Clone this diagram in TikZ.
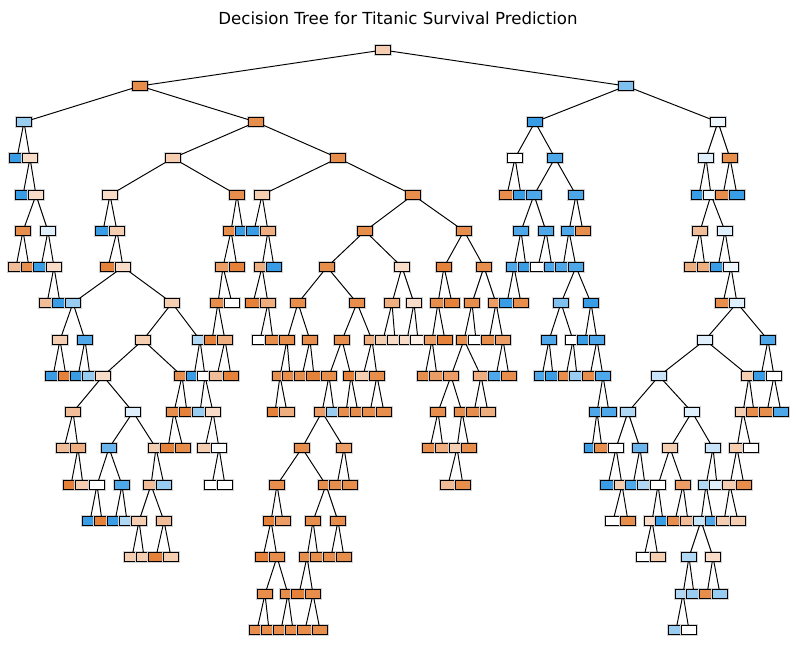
\documentclass[tikz,border=0pt]{standalone}
\usepackage{fontspec}
\setmainfont{DejaVu Sans}
\definecolor{died}{HTML}{E58139}
\definecolor{lived}{HTML}{399DE5}
\tikzset{
  box/.style={draw=black,line width=0.9pt,minimum width=10.8pt,minimum height=6pt,inner sep=0pt,
    preaction={draw=black!18,line width=2pt}},
  link/.style={line width=0.7pt},
  o9/.style={box,fill=died},       o8/.style={box,fill=died!90!white},
  o7/.style={box,fill=died!78!white}, o6/.style={box,fill=died!64!white},
  o5/.style={box,fill=died!52!white}, o4/.style={box,fill=died!40!white},
  o3/.style={box,fill=died!28!white}, o2/.style={box,fill=died!12!white},
  w/.style={box,fill=white},
  b1/.style={box,fill=lived!8!white},  b2/.style={box,fill=lived!16!white},
  b3/.style={box,fill=lived!28!white}, b4/.style={box,fill=lived!40!white},
  b5/.style={box,fill=lived!52!white}, b6/.style={box,fill=lived!64!white},
  b7/.style={box,fill=lived!76!white}, b8/.style={box,fill=lived!90!white},
  b9/.style={box,fill=lived}
}
\begin{document}
\begin{tikzpicture}[x=0.254mm,y=-0.254mm]
\useasboundingbox (0,0) rectangle (796,658);
\node[font=\fontsize{12}{14}\selectfont] (title) at (398,18) {Decision Tree for Titanic Survival Prediction};
\node[o4] (d0x383) at (383,50) {};
\node[o8] (d1x140) at (140,86) {};
\node[b6] (d1x626) at (626,86) {};
\node[b5] (d2x24) at (24,122) {};
\node[o8] (d2x256) at (256,122) {};
\node[b9] (d2x535) at (535,122) {};
\node[b1] (d2x718) at (718,122) {};
\node[b9] (d3x17) at (17,158) {};
\node[o3] (d3x30) at (30,158) {};
\node[o4] (d3x173) at (173,158) {};
\node[o8] (d3x338) at (338,158) {};
\node[w] (d3x515) at (515,158) {};
\node[b8] (d3x555) at (555,158) {};
\node[b2] (d3x706) at (706,158) {};
\node[o8] (d3x730) at (730,158) {};
\node[b9] (d4x23) at (23,195) {};
\node[o3] (d4x36) at (36,195) {};
\node[o3] (d4x110) at (110,195) {};
\node[o8] (d4x237) at (237,195) {};
\node[o4] (d4x262) at (262,195) {};
\node[o8] (d4x413) at (413,195) {};
\node[o8] (d4x507) at (507,195) {};
\node[b9] (d4x521) at (521,195) {};
\node[b8] (d4x534) at (534,195) {};
\node[b8] (d4x576) at (576,195) {};
\node[b9] (d4x699) at (699,195) {};
\node[b1] (d4x711) at (711,195) {};
\node[o8] (d4x723) at (723,195) {};
\node[b9] (d4x737) at (737,195) {};
\node[o8] (d5x23) at (23,231) {};
\node[b2] (d5x48) at (48,231) {};
\node[b9] (d5x103) at (103,231) {};
\node[o4] (d5x117) at (117,231) {};
\node[o8] (d5x231) at (231,231) {};
\node[b9] (d5x243) at (243,231) {};
\node[b9] (d5x254) at (254,231) {};
\node[o6] (d5x268) at (268,231) {};
\node[o8] (d5x365) at (365,231) {};
\node[o8] (d5x464) at (464,231) {};
\node[b8] (d5x521) at (521,231) {};
\node[b8] (d5x546) at (546,231) {};
\node[b8] (d5x569) at (569,231) {};
\node[o8] (d5x583) at (583,231) {};
\node[o5] (d5x700) at (700,231) {};
\node[b2] (d5x725) at (725,231) {};
\node[o5] (d6x16) at (16,267) {};
\node[o8] (d6x29) at (29,267) {};
\node[b9] (d6x41) at (41,267) {};
\node[o3] (d6x54) at (54,267) {};
\node[o9] (d6x108) at (108,267) {};
\node[o3] (d6x123) at (123,267) {};
\node[o7] (d6x223) at (223,267) {};
\node[o9] (d6x237) at (237,267) {};
\node[o6] (d6x262) at (262,267) {};
\node[b9] (d6x274) at (274,267) {};
\node[o8] (d6x327) at (327,267) {};
\node[o3] (d6x402) at (402,267) {};
\node[o9] (d6x444) at (444,267) {};
\node[o8] (d6x484) at (484,267) {};
\node[b8] (d6x514) at (514,267) {};
\node[b9] (d6x526) at (526,267) {};
\node[w] (d6x538) at (538,267) {};
\node[b8] (d6x552) at (552,267) {};
\node[b8] (d6x563) at (563,267) {};
\node[b8] (d6x576) at (576,267) {};
\node[o6] (d6x692) at (692,267) {};
\node[o6] (d6x705) at (705,267) {};
\node[b9] (d6x718) at (718,267) {};
\node[b1] (d6x731) at (731,267) {};
\node[o5] (d7x47) at (47,303) {};
\node[b9] (d7x60) at (60,303) {};
\node[b5] (d7x73) at (73,303) {};
\node[o4] (d7x172) at (172,303) {};
\node[o8] (d7x218) at (218,303) {};
\node[w] (d7x232) at (232,303) {};
\node[o9] (d7x253) at (253,303) {};
\node[o6] (d7x268) at (268,303) {};
\node[o8] (d7x298) at (298,303) {};
\node[o8] (d7x357) at (357,303) {};
\node[o6] (d7x392) at (392,303) {};
\node[o3] (d7x414) at (414,303) {};
\node[o8] (d7x438) at (438,303) {};
\node[o9] (d7x452) at (452,303) {};
\node[o8] (d7x472) at (472,303) {};
\node[o7] (d7x496) at (496,303) {};
\node[b9] (d7x507) at (507,303) {};
\node[o8] (d7x521) at (521,303) {};
\node[b6] (d7x561) at (561,303) {};
\node[b9] (d7x591) at (591,303) {};
\node[o8] (d7x723) at (723,303) {};
\node[b2] (d7x737) at (737,303) {};
\node[o4] (d8x60) at (60,340) {};
\node[b8] (d8x85) at (85,340) {};
\node[o4] (d8x143) at (143,340) {};
\node[b4] (d8x200) at (200,340) {};
\node[o9] (d8x212) at (212,340) {};
\node[o6] (d8x225) at (225,340) {};
\node[w] (d8x260) at (260,340) {};
\node[o8] (d8x273) at (273,340) {};
\node[o8] (d8x287) at (287,340) {};
\node[o8] (d8x310) at (310,340) {};
\node[o8] (d8x342) at (342,340) {};
\node[o6] (d8x372) at (372,340) {};
\node[o4] (d8x383) at (383,340) {};
\node[o3] (d8x395) at (395,340) {};
\node[o3] (d8x407) at (407,340) {};
\node[o2] (d8x418) at (418,340) {};
\node[o7] (d8x432) at (432,340) {};
\node[o9] (d8x445) at (445,340) {};
\node[o8] (d8x464) at (464,340) {};
\node[w] (d8x476) at (476,340) {};
\node[o8] (d8x489) at (489,340) {};
\node[o7] (d8x503) at (503,340) {};
\node[b8] (d8x549) at (549,340) {};
\node[w] (d8x573) at (573,340) {};
\node[b9] (d8x585) at (585,340) {};
\node[b8] (d8x597) at (597,340) {};
\node[b2] (d8x705) at (705,340) {};
\node[b8] (d8x768) at (768,340) {};
\node[b9] (d9x53) at (53,376) {};
\node[o9] (d9x66) at (66,376) {};
\node[b9] (d9x78) at (78,376) {};
\node[b5] (d9x90) at (90,376) {};
\node[o3] (d9x103) at (103,376) {};
\node[o8] (d9x182) at (182,376) {};
\node[b9] (d9x194) at (194,376) {};
\node[w] (d9x205) at (205,376) {};
\node[o5] (d9x217) at (217,376) {};
\node[o9] (d9x231) at (231,376) {};
\node[o8] (d9x280) at (280,376) {};
\node[o8] (d9x290) at (290,376) {};
\node[o8] (d9x302) at (302,376) {};
\node[o9] (d9x314) at (314,376) {};
\node[o8] (d9x329) at (329,376) {};
\node[o9] (d9x351) at (351,376) {};
\node[o4] (d9x363) at (363,376) {};
\node[o8] (d9x377) at (377,376) {};
\node[o8] (d9x425) at (425,376) {};
\node[o7] (d9x437) at (437,376) {};
\node[o7] (d9x451) at (451,376) {};
\node[o6] (d9x481) at (481,376) {};
\node[b8] (d9x496) at (496,376) {};
\node[o8] (d9x509) at (509,376) {};
\node[b8] (d9x542) at (542,376) {};
\node[b9] (d9x553) at (553,376) {};
\node[o8] (d9x566) at (566,376) {};
\node[b5] (d9x577) at (577,376) {};
\node[o8] (d9x590) at (590,376) {};
\node[b8] (d9x603) at (603,376) {};
\node[b3] (d9x659) at (659,376) {};
\node[o4] (d9x749) at (749,376) {};
\node[b9] (d9x761) at (761,376) {};
\node[w] (d9x774) at (774,376) {};
\node[o5] (d10x73) at (73,412) {};
\node[b2] (d10x133) at (133,412) {};
\node[o8] (d10x174) at (174,412) {};
\node[o9] (d10x187) at (187,412) {};
\node[b5] (d10x200) at (200,412) {};
\node[o3] (d10x213) at (213,412) {};
\node[o9] (d10x275) at (275,412) {};
\node[o6] (d10x287) at (287,412) {};
\node[o7] (d10x322) at (322,412) {};
\node[b5] (d10x334) at (334,412) {};
\node[o8] (d10x346) at (346,412) {};
\node[o8] (d10x358) at (358,412) {};
\node[o8] (d10x370) at (370,412) {};
\node[o8] (d10x384) at (384,412) {};
\node[o8] (d10x438) at (438,412) {};
\node[o8] (d10x462) at (462,412) {};
\node[o8] (d10x474) at (474,412) {};
\node[o6] (d10x488) at (488,412) {};
\node[b8] (d10x597) at (597,412) {};
\node[b8] (d10x609) at (609,412) {};
\node[b4] (d10x628) at (628,412) {};
\node[b2] (d10x692) at (692,412) {};
\node[o4] (d10x743) at (743,412) {};
\node[o8] (d10x754) at (754,412) {};
\node[o8] (d10x767) at (767,412) {};
\node[b8] (d10x781) at (781,412) {};
\node[o5] (d11x64) at (64,448) {};
\node[o6] (d11x78) at (78,448) {};
\node[b7] (d11x109) at (109,448) {};
\node[o4] (d11x156) at (156,448) {};
\node[o9] (d11x168) at (168,448) {};
\node[o8] (d11x183) at (183,448) {};
\node[o4] (d11x205) at (205,448) {};
\node[w] (d11x219) at (219,448) {};
\node[o8] (d11x302) at (302,448) {};
\node[o7] (d11x344) at (344,448) {};
\node[o8] (d11x430) at (430,448) {};
\node[o6] (d11x443) at (443,448) {};
\node[o4] (d11x457) at (457,448) {};
\node[o8] (d11x469) at (469,448) {};
\node[b9] (d11x592) at (592,448) {};
\node[o8] (d11x602) at (602,448) {};
\node[w] (d11x616) at (616,448) {};
\node[b7] (d11x640) at (640,448) {};
\node[o4] (d11x670) at (670,448) {};
\node[b3] (d11x713) at (713,448) {};
\node[o4] (d11x737) at (737,448) {};
\node[w] (d11x751) at (751,448) {};
\node[o9] (d12x71) at (71,485) {};
\node[o4] (d12x83) at (83,485) {};
\node[w] (d12x97) at (97,485) {};
\node[b8] (d12x122) at (122,485) {};
\node[o5] (d12x151) at (151,485) {};
\node[b5] (d12x164) at (164,485) {};
\node[w] (d12x212) at (212,485) {};
\node[w] (d12x225) at (225,485) {};
\node[o8] (d12x277) at (277,485) {};
\node[o8] (d12x326) at (326,485) {};
\node[o8] (d12x337) at (337,485) {};
\node[o8] (d12x350) at (350,485) {};
\node[o5] (d12x448) at (448,485) {};
\node[o8] (d12x463) at (463,485) {};
\node[b9] (d12x608) at (608,485) {};
\node[o4] (d12x622) at (622,485) {};
\node[b8] (d12x633) at (633,485) {};
\node[b4] (d12x645) at (645,485) {};
\node[w] (d12x658) at (658,485) {};
\node[o7] (d12x683) at (683,485) {};
\node[b4] (d12x706) at (706,485) {};
\node[b2] (d12x717) at (717,485) {};
\node[o4] (d12x730) at (730,485) {};
\node[o8] (d12x744) at (744,485) {};
\node[b9] (d13x90) at (90,521) {};
\node[o9] (d13x102) at (102,521) {};
\node[b9] (d13x115) at (115,521) {};
\node[b4] (d13x127) at (127,521) {};
\node[o4] (d13x139) at (139,521) {};
\node[o5] (d13x164) at (164,521) {};
\node[o9] (d13x271) at (271,521) {};
\node[o7] (d13x283) at (283,521) {};
\node[o8] (d13x313) at (313,521) {};
\node[o8] (d13x338) at (338,521) {};
\node[w] (d13x613) at (613,521) {};
\node[o8] (d13x628) at (628,521) {};
\node[o3] (d13x652) at (652,521) {};
\node[b9] (d13x663) at (663,521) {};
\node[o8] (d13x675) at (675,521) {};
\node[o5] (d13x688) at (688,521) {};
\node[b3] (d13x701) at (701,521) {};
\node[b8] (d13x713) at (713,521) {};
\node[o4] (d13x724) at (724,521) {};
\node[o4] (d13x738) at (738,521) {};
\node[o4] (d14x132) at (132,557) {};
\node[o4] (d14x144) at (144,557) {};
\node[o9] (d14x156) at (156,557) {};
\node[o4] (d14x171) at (171,557) {};
\node[o9] (d14x263) at (263,557) {};
\node[o8] (d14x277) at (277,557) {};
\node[o8] (d14x307) at (307,557) {};
\node[o8] (d14x318) at (318,557) {};
\node[o8] (d14x331) at (331,557) {};
\node[o8] (d14x344) at (344,557) {};
\node[w] (d14x644) at (644,557) {};
\node[o4] (d14x658) at (658,557) {};
\node[b4] (d14x689) at (689,557) {};
\node[o3] (d14x713) at (713,557) {};
\node[o8] (d15x265) at (265,594) {};
\node[o8] (d15x288) at (288,594) {};
\node[o9] (d15x299) at (299,594) {};
\node[o8] (d15x313) at (313,594) {};
\node[b4] (d15x683) at (683,594) {};
\node[b5] (d15x694) at (694,594) {};
\node[o8] (d15x707) at (707,594) {};
\node[b5] (d15x720) at (720,594) {};
\node[o8] (d16x257) at (257,630) {};
\node[o8] (d16x269) at (269,630) {};
\node[o8] (d16x281) at (281,630) {};
\node[o8] (d16x293) at (293,630) {};
\node[o8] (d16x305) at (305,630) {};
\node[o8] (d16x320) at (320,630) {};
\node[b5] (d16x676) at (676,630) {};
\node[w] (d16x689) at (689,630) {};
\draw[link] (d0x383)--(d1x140) (d0x383)--(d1x626);
\draw[link] (d1x140)--(d2x24) (d1x140)--(d2x256);
\draw[link] (d1x626)--(d2x535) (d1x626)--(d2x718);
\draw[link] (d2x24)--(d3x17) (d2x24)--(d3x30);
\draw[link] (d2x256)--(d3x173) (d2x256)--(d3x338);
\draw[link] (d2x535)--(d3x515) (d2x535)--(d3x555);
\draw[link] (d2x718)--(d3x706) (d2x718)--(d3x730);
\draw[link] (d3x30)--(d4x23) (d3x30)--(d4x36);
\draw[link] (d3x173)--(d4x110) (d3x173)--(d4x237);
\draw[link] (d3x338)--(d4x262) (d3x338)--(d4x413);
\draw[link] (d3x515)--(d4x507) (d3x515)--(d4x521);
\draw[link] (d3x555)--(d4x534) (d3x555)--(d4x576);
\draw[link] (d3x706)--(d4x699) (d3x706)--(d4x711);
\draw[link] (d3x730)--(d4x723) (d3x730)--(d4x737);
\draw[link] (d4x36)--(d5x23) (d4x36)--(d5x48);
\draw[link] (d4x110)--(d5x103) (d4x110)--(d5x117);
\draw[link] (d4x237)--(d5x231) (d4x237)--(d5x243);
\draw[link] (d4x262)--(d5x254) (d4x262)--(d5x268);
\draw[link] (d4x413)--(d5x365) (d4x413)--(d5x464);
\draw[link] (d4x534)--(d5x521) (d4x534)--(d5x546);
\draw[link] (d4x576)--(d5x569) (d4x576)--(d5x583);
\draw[link] (d4x711)--(d5x700) (d4x711)--(d5x725);
\draw[link] (d5x23)--(d6x16) (d5x23)--(d6x29);
\draw[link] (d5x48)--(d6x41) (d5x48)--(d6x54);
\draw[link] (d5x117)--(d6x108) (d5x117)--(d6x123);
\draw[link] (d5x231)--(d6x223) (d5x231)--(d6x237);
\draw[link] (d5x268)--(d6x262) (d5x268)--(d6x274);
\draw[link] (d5x365)--(d6x327) (d5x365)--(d6x402);
\draw[link] (d5x464)--(d6x444) (d5x464)--(d6x484);
\draw[link] (d5x521)--(d6x514) (d5x521)--(d6x526);
\draw[link] (d5x546)--(d6x538) (d5x546)--(d6x552);
\draw[link] (d5x569)--(d6x563) (d5x569)--(d6x576);
\draw[link] (d5x700)--(d6x692) (d5x700)--(d6x705);
\draw[link] (d5x725)--(d6x718) (d5x725)--(d6x731);
\draw[link] (d6x54)--(d7x47) (d6x54)--(d7x60);
\draw[link] (d6x123)--(d7x73) (d6x123)--(d7x172);
\draw[link] (d6x223)--(d7x218) (d6x223)--(d7x232);
\draw[link] (d6x262)--(d7x253) (d6x262)--(d7x268);
\draw[link] (d6x327)--(d7x298) (d6x327)--(d7x357);
\draw[link] (d6x402)--(d7x392) (d6x402)--(d7x414);
\draw[link] (d6x444)--(d7x438) (d6x444)--(d7x452);
\draw[link] (d6x484)--(d7x472) (d6x484)--(d7x496);
\draw[link] (d6x514)--(d7x507) (d6x514)--(d7x521);
\draw[link] (d6x576)--(d7x561) (d6x576)--(d7x591);
\draw[link] (d6x731)--(d7x723) (d6x731)--(d7x737);
\draw[link] (d7x73)--(d8x60) (d7x73)--(d8x85);
\draw[link] (d7x172)--(d8x143) (d7x172)--(d8x200);
\draw[link] (d7x218)--(d8x212) (d7x218)--(d8x225);
\draw[link] (d7x268)--(d8x260) (d7x268)--(d8x273);
\draw[link] (d7x298)--(d8x287) (d7x298)--(d8x310);
\draw[link] (d7x357)--(d8x342) (d7x357)--(d8x372);
\draw[link] (d7x392)--(d8x383) (d7x392)--(d8x395);
\draw[link] (d7x414)--(d8x407) (d7x414)--(d8x418);
\draw[link] (d7x438)--(d8x432) (d7x438)--(d8x445);
\draw[link] (d7x472)--(d8x464) (d7x472)--(d8x476);
\draw[link] (d7x496)--(d8x489) (d7x496)--(d8x503);
\draw[link] (d7x561)--(d8x549) (d7x561)--(d8x573);
\draw[link] (d7x591)--(d8x585) (d7x591)--(d8x597);
\draw[link] (d7x737)--(d8x705) (d7x737)--(d8x768);
\draw[link] (d8x60)--(d9x53) (d8x60)--(d9x66);
\draw[link] (d8x85)--(d9x78) (d8x85)--(d9x90);
\draw[link] (d8x143)--(d9x103) (d8x143)--(d9x182);
\draw[link] (d8x200)--(d9x194) (d8x200)--(d9x205);
\draw[link] (d8x225)--(d9x217) (d8x225)--(d9x231);
\draw[link] (d8x287)--(d9x280) (d8x287)--(d9x290);
\draw[link] (d8x310)--(d9x302) (d8x310)--(d9x314);
\draw[link] (d8x342)--(d9x329) (d8x342)--(d9x351);
\draw[link] (d8x372)--(d9x363) (d8x372)--(d9x377);
\draw[link] (d8x432)--(d9x425) (d8x432)--(d9x437);
\draw[link] (d8x464)--(d9x451) (d8x464)--(d9x481);
\draw[link] (d8x503)--(d9x496) (d8x503)--(d9x509);
\draw[link] (d8x549)--(d9x542) (d8x549)--(d9x553);
\draw[link] (d8x573)--(d9x566) (d8x573)--(d9x577);
\draw[link] (d8x597)--(d9x590) (d8x597)--(d9x603);
\draw[link] (d8x705)--(d9x659) (d8x705)--(d9x749);
\draw[link] (d8x768)--(d9x761) (d8x768)--(d9x774);
\draw[link] (d9x103)--(d10x73) (d9x103)--(d10x133);
\draw[link] (d9x182)--(d10x174) (d9x182)--(d10x187);
\draw[link] (d9x205)--(d10x200) (d9x205)--(d10x213);
\draw[link] (d9x280)--(d10x275) (d9x280)--(d10x287);
\draw[link] (d9x329)--(d10x322) (d9x329)--(d10x334);
\draw[link] (d9x351)--(d10x346) (d9x351)--(d10x358);
\draw[link] (d9x377)--(d10x370) (d9x377)--(d10x384);
\draw[link] (d9x451)--(d10x438) (d9x451)--(d10x462);
\draw[link] (d9x481)--(d10x474) (d9x481)--(d10x488);
\draw[link] (d9x603)--(d10x597) (d9x603)--(d10x609);
\draw[link] (d9x659)--(d10x628) (d9x659)--(d10x692);
\draw[link] (d9x749)--(d10x743) (d9x749)--(d10x754);
\draw[link] (d9x774)--(d10x767) (d9x774)--(d10x781);
\draw[link] (d10x73)--(d11x64) (d10x73)--(d11x78);
\draw[link] (d10x133)--(d11x109) (d10x133)--(d11x156);
\draw[link] (d10x174)--(d11x168) (d10x174)--(d11x183);
\draw[link] (d10x213)--(d11x205) (d10x213)--(d11x219);
\draw[link] (d10x322)--(d11x302) (d10x322)--(d11x344);
\draw[link] (d10x438)--(d11x430) (d10x438)--(d11x443);
\draw[link] (d10x462)--(d11x457) (d10x462)--(d11x469);
\draw[link] (d10x597)--(d11x592) (d10x597)--(d11x602);
\draw[link] (d10x628)--(d11x616) (d10x628)--(d11x640);
\draw[link] (d10x692)--(d11x670) (d10x692)--(d11x713);
\draw[link] (d10x743)--(d11x737) (d10x743)--(d11x751);
\draw[link] (d11x78)--(d12x71) (d11x78)--(d12x83);
\draw[link] (d11x109)--(d12x97) (d11x109)--(d12x122);
\draw[link] (d11x156)--(d12x151) (d11x156)--(d12x164);
\draw[link] (d11x219)--(d12x212) (d11x219)--(d12x225);
\draw[link] (d11x302)--(d12x277) (d11x302)--(d12x326);
\draw[link] (d11x344)--(d12x337) (d11x344)--(d12x350);
\draw[link] (d11x457)--(d12x448) (d11x457)--(d12x463);
\draw[link] (d11x616)--(d12x608) (d11x616)--(d12x622);
\draw[link] (d11x640)--(d12x633) (d11x640)--(d12x645);
\draw[link] (d11x670)--(d12x658) (d11x670)--(d12x683);
\draw[link] (d11x713)--(d12x706) (d11x713)--(d12x717);
\draw[link] (d11x737)--(d12x730) (d11x737)--(d12x744);
\draw[link] (d12x97)--(d13x90) (d12x97)--(d13x102);
\draw[link] (d12x122)--(d13x115) (d12x122)--(d13x127);
\draw[link] (d12x151)--(d13x139) (d12x151)--(d13x164);
\draw[link] (d12x277)--(d13x271) (d12x277)--(d13x283);
\draw[link] (d12x326)--(d13x313) (d12x326)--(d13x338);
\draw[link] (d12x622)--(d13x613) (d12x622)--(d13x628);
\draw[link] (d12x658)--(d13x652) (d12x658)--(d13x663);
\draw[link] (d12x683)--(d13x675) (d12x683)--(d13x688);
\draw[link] (d12x706)--(d13x701) (d12x706)--(d13x713);
\draw[link] (d12x730)--(d13x724) (d12x730)--(d13x738);
\draw[link] (d13x139)--(d14x132) (d13x139)--(d14x144);
\draw[link] (d13x164)--(d14x156) (d13x164)--(d14x171);
\draw[link] (d13x271)--(d14x263) (d13x271)--(d14x277);
\draw[link] (d13x313)--(d14x307) (d13x313)--(d14x318);
\draw[link] (d13x338)--(d14x331) (d13x338)--(d14x344);
\draw[link] (d13x652)--(d14x644) (d13x652)--(d14x658);
\draw[link] (d13x701)--(d14x689) (d13x701)--(d14x713);
\draw[link] (d14x277)--(d15x265) (d14x277)--(d15x288);
\draw[link] (d14x307)--(d15x299) (d14x307)--(d15x313);
\draw[link] (d14x689)--(d15x683) (d14x689)--(d15x694);
\draw[link] (d14x713)--(d15x707) (d14x713)--(d15x720);
\draw[link] (d15x265)--(d16x257) (d15x265)--(d16x269);
\draw[link] (d15x288)--(d16x281) (d15x288)--(d16x293);
\draw[link] (d15x313)--(d16x305) (d15x313)--(d16x320);
\draw[link] (d15x683)--(d16x676) (d15x683)--(d16x689);
\end{tikzpicture}
\end{document}
